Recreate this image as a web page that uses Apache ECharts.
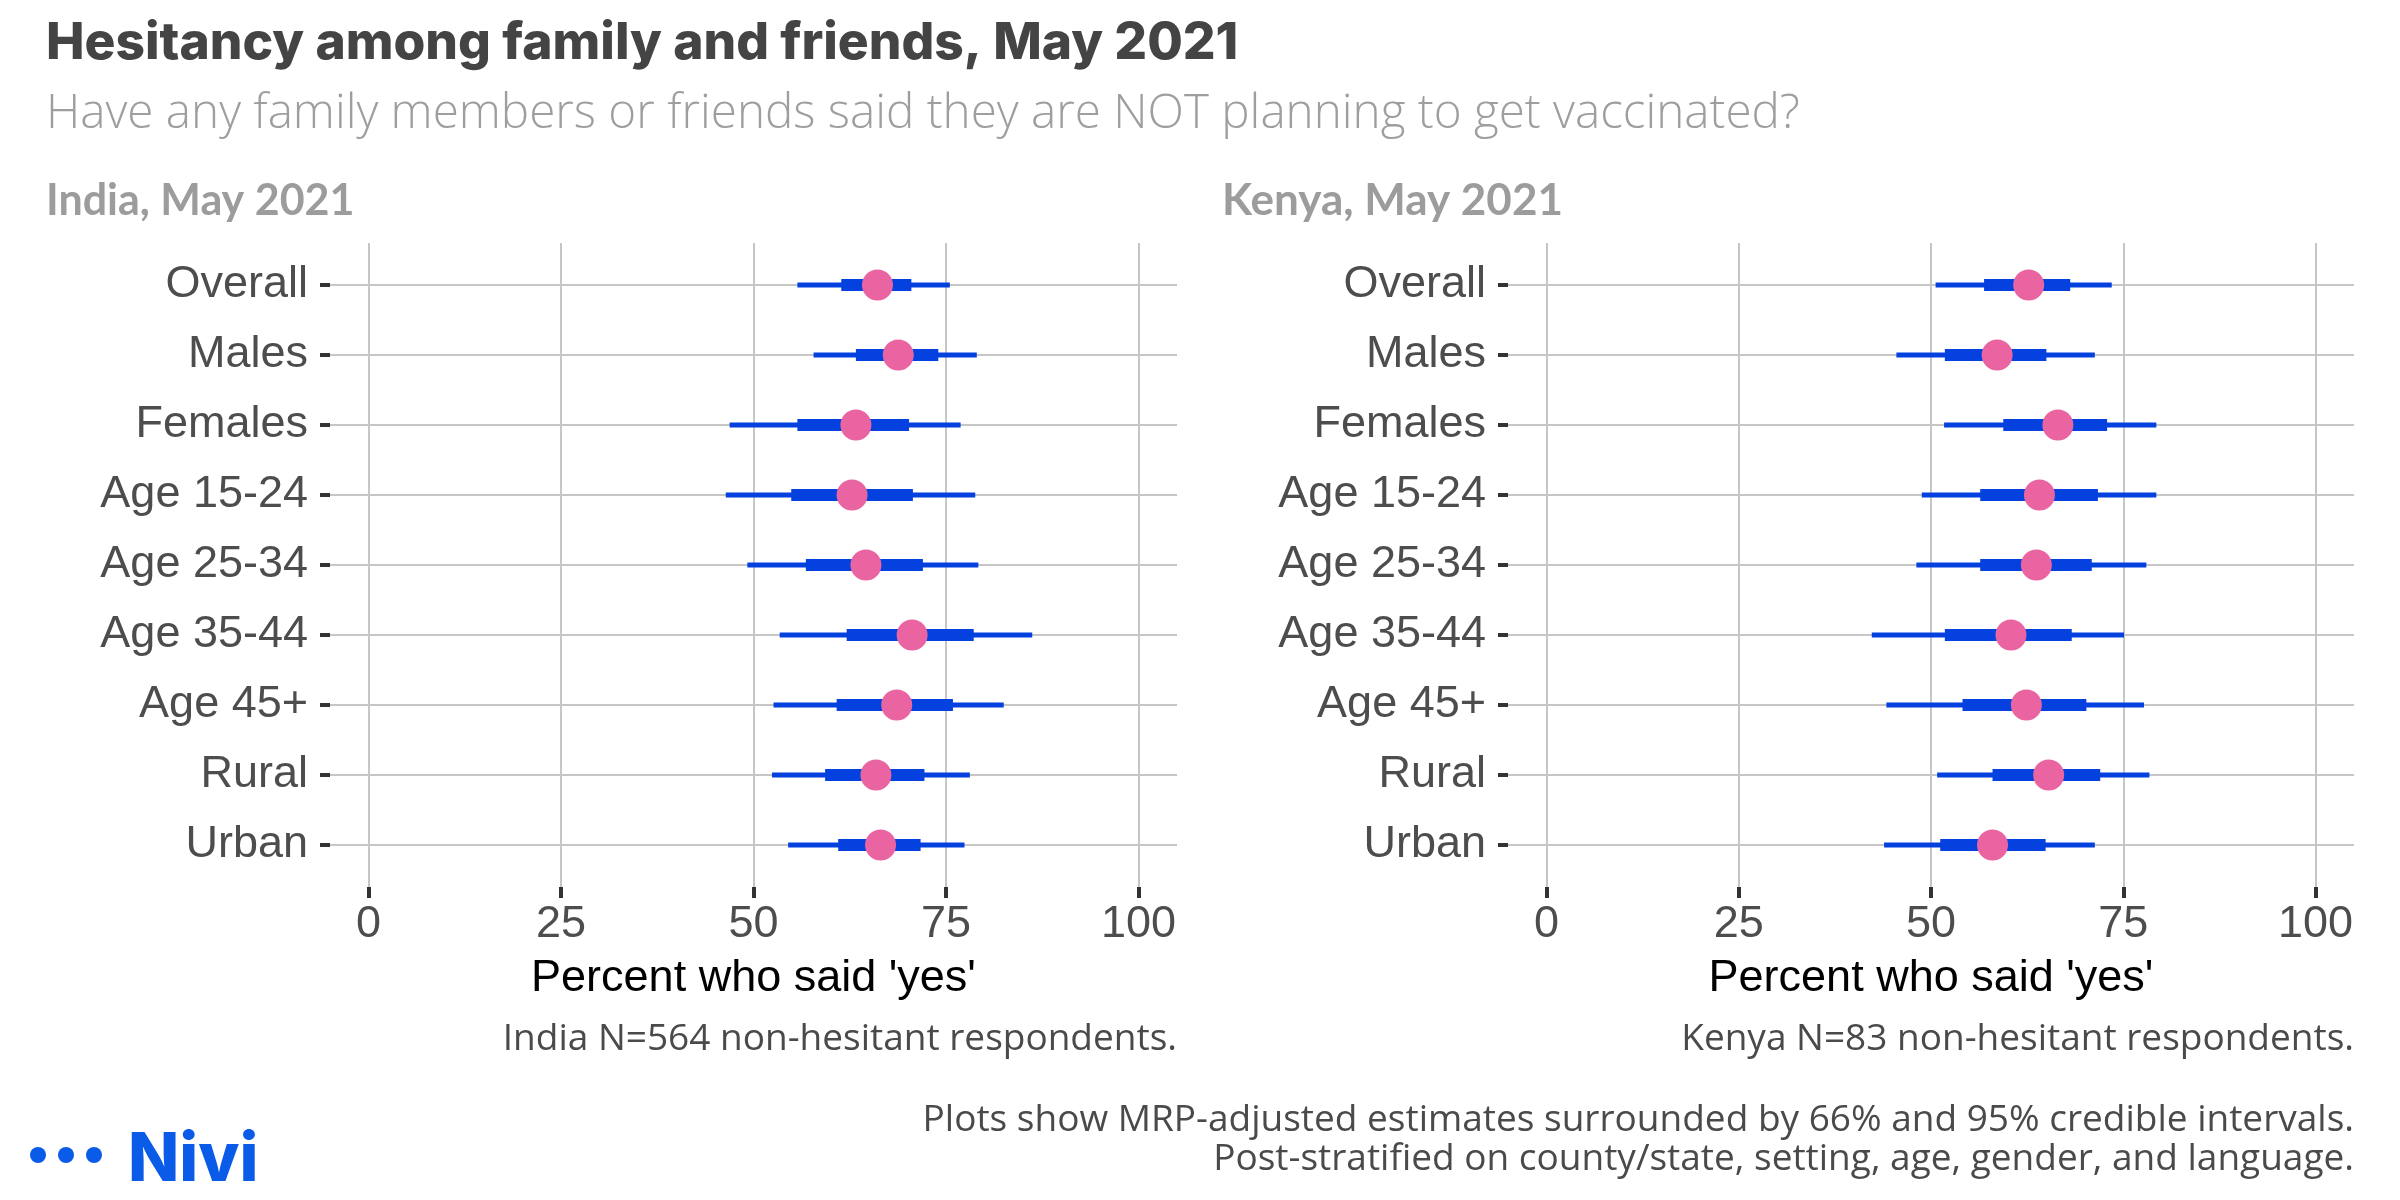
<!DOCTYPE html>
<html>
<head>
<meta charset="utf-8">
<script src="https://cdn.jsdelivr.net/npm/echarts@6/dist/echarts.min.js"></script>
<style>
html,body{margin:0;padding:0;background:#fff;}
#chart{width:2400px;height:1200px;}
</style>
</head>
<body>
<div id="chart"></div>
<script>
// ---- data ----
const categories = ['Overall','Males','Females','Age 15-24','Age 25-34','Age 35-44','Age 45+','Rural','Urban'];
const xTicks = [0, 25, 50, 75, 100];

const indiaEst  = [66.1, 68.8, 63.3, 62.8, 64.6, 70.6, 68.6, 65.9, 66.5];
const india66Lo = [61.4, 63.3, 55.7, 54.9, 56.8, 62.1, 60.8, 59.3, 61.0];
const india66Hi = [70.5, 74.0, 70.2, 70.7, 72.0, 78.6, 75.9, 72.2, 71.7];
const india95Lo = [55.7, 57.8, 46.9, 46.4, 49.2, 53.4, 52.6, 52.4, 54.5];
const india95Hi = [75.5, 79.0, 76.9, 78.8, 79.2, 86.2, 82.5, 78.1, 77.4];

const kenyaEst  = [62.7, 58.6, 66.5, 64.1, 63.7, 60.4, 62.4, 65.3, 58.0];
const kenya66Lo = [56.9, 51.8, 59.4, 56.4, 56.4, 51.8, 54.1, 58.0, 51.2];
const kenya66Hi = [68.1, 65.0, 72.9, 71.7, 70.9, 68.3, 70.2, 72.0, 64.9];
const kenya95Lo = [50.6, 45.5, 51.7, 48.8, 48.1, 42.3, 44.2, 50.8, 43.9];
const kenya95Hi = [73.5, 71.3, 79.3, 79.3, 78.0, 75.1, 77.7, 78.4, 71.3];

const titleText = 'Hesitancy among family and friends, May 2021';
const subtitleText = 'Have any family members or friends said they are NOT planning to get vaccinated?';
const panelTitles = ['India, May 2021', 'Kenya, May 2021'];
const xAxisName = "Percent who said 'yes'";
const captions = ['India N=564 non-hesitant respondents.', 'Kenya N=83 non-hesitant respondents.'];
const footnotes = ['Plots show MRP-adjusted estimates surrounded by 66% and 95% credible intervals.',
                   'Post-stratified on county/state, setting, age, gender, and language.'];

// ---- style ----
const BLUE = '#0441DF';
const PINK = '#EA64A1';
const GRID = '#C6C6C6';
const TICK = '#333333';
const LABEL = '#4D4D4D';
const catIdx = categories.map((c, i) => i);

function intervalData(lo95, hi95, lo66, hi66) {
  return catIdx.map(i => [i, lo95[i], hi95[i], lo66[i], hi66[i]]);
}
function pointData(est) {
  return catIdx.map(i => [est[i], i]);
}

function renderInterval(params, api) {
  const i = api.value(0);
  const a = api.coord([api.value(1), i]);
  const b = api.coord([api.value(2), i]);
  const c = api.coord([api.value(3), i]);
  const d = api.coord([api.value(4), i]);
  const thin = 5, thick = 12;
  return {
    type: 'group',
    children: [
      { type: 'rect', shape: { x: a[0], y: a[1] - thin / 2, width: b[0] - a[0], height: thin }, style: { fill: BLUE } },
      { type: 'rect', shape: { x: c[0], y: c[1] - thick / 2, width: d[0] - c[0], height: thick }, style: { fill: BLUE } }
    ]
  };
}

const grids = [
  { left: 330, width: 847, top: 243, height: 644 },
  { left: 1508, width: 846, top: 243, height: 644 }
];

function xAxisFor(gi) {
  return {
    type: 'value', gridIndex: gi, min: -5, max: 105,
    axisLine: { show: false, onZero: false },
    axisTick: { show: true, customValues: xTicks, length: 11, lineStyle: { color: TICK, width: 4 } },
    axisLabel: { customValues: xTicks, margin: 38, verticalAlign: 'middle', fontFamily: 'Liberation Sans', fontSize: 45, color: LABEL },
    splitLine: { show: true, lineStyle: { color: GRID, width: 2 } }
  };
}
function yAxisFor(gi) {
  return {
    type: 'value', gridIndex: gi, min: -0.6, max: 8.6, inverse: true,
    axisLine: { show: false, onZero: false },
    axisTick: { show: true, customValues: catIdx, length: 10, lineStyle: { color: TICK, width: 4 } },
    axisLabel: { customValues: catIdx, margin: 22, fontFamily: 'Liberation Sans', fontSize: 45, color: LABEL,
                 verticalAlign: 'middle', padding: [10, 0, 0, 0],
                 formatter: v => categories[Math.round(v)] },
    splitLine: { show: true, lineStyle: { color: GRID, width: 2 } }
  };
}

function txt(text, x, y, font, fill, align) {
  return { type: 'text', x: x, y: y, silent: true,
    style: { text: text, font: font, fill: fill, align: align || 'left', textAlign: align || 'left',
             verticalAlign: 'middle', textVerticalAlign: 'middle' } };
}

const graphics = [
  txt(titleText, 46, 44, '800 51.5px Inter', '#444444'),
  txt(subtitleText, 46, 114, '300 47.6px "Open Sans"', '#9E9E9E'),
  txt(panelTitles[0], 46, 201, 'bold 43px Lato', '#9C9C9C'),
  txt(panelTitles[1], 1222, 201, 'bold 44px Lato', '#9C9C9C'),
  txt(xAxisName, 753.5, 979, '45px "Liberation Sans"', '#000000', 'center'),
  txt(xAxisName, 1931, 979, '45px "Liberation Sans"', '#000000', 'center'),
  txt(captions[0], 1177, 1039, '37px "Open Sans"', '#4A4A4A', 'right'),
  txt(captions[1], 2354, 1039, '37px "Open Sans"', '#4A4A4A', 'right'),
  txt(footnotes[0], 2354, 1120, '37px "Open Sans"', '#4A4A4A', 'right'),
  txt(footnotes[1], 2354, 1159, '37px "Open Sans"', '#4A4A4A', 'right'),
  { type: 'circle', shape: { cx: 38, cy: 1155, r: 8 }, style: { fill: '#0B5BE9' } },
  { type: 'circle', shape: { cx: 66, cy: 1155, r: 8 }, style: { fill: '#0B5BE9' } },
  { type: 'circle', shape: { cx: 94, cy: 1155, r: 8 }, style: { fill: '#0B5BE9' } },
  txt('Nivi', 128, 1161, '800 67px Inter', '#0B5BE9')
];

const chart = echarts.init(document.getElementById('chart'), null, { renderer: 'canvas' });
chart.setOption({
  animation: false,
  backgroundColor: '#ffffff',
  grid: grids,
  xAxis: [xAxisFor(0), xAxisFor(1)],
  yAxis: [yAxisFor(0), yAxisFor(1)],
  series: [
    { type: 'custom', xAxisIndex: 0, yAxisIndex: 0, renderItem: renderInterval,
      encode: { x: [1, 2, 3, 4], y: 0 }, data: intervalData(india95Lo, india95Hi, india66Lo, india66Hi), z: 2 },
    { type: 'custom', xAxisIndex: 1, yAxisIndex: 1, renderItem: renderInterval,
      encode: { x: [1, 2, 3, 4], y: 0 }, data: intervalData(kenya95Lo, kenya95Hi, kenya66Lo, kenya66Hi), z: 2 },
    { type: 'scatter', xAxisIndex: 0, yAxisIndex: 0, symbolSize: 31, itemStyle: { color: PINK, opacity: 1 },
      data: pointData(indiaEst), z: 3 },
    { type: 'scatter', xAxisIndex: 1, yAxisIndex: 1, symbolSize: 31, itemStyle: { color: PINK, opacity: 1 },
      data: pointData(kenyaEst), z: 3 }
  ],
  graphic: graphics
});
</script>
</body>
</html>
